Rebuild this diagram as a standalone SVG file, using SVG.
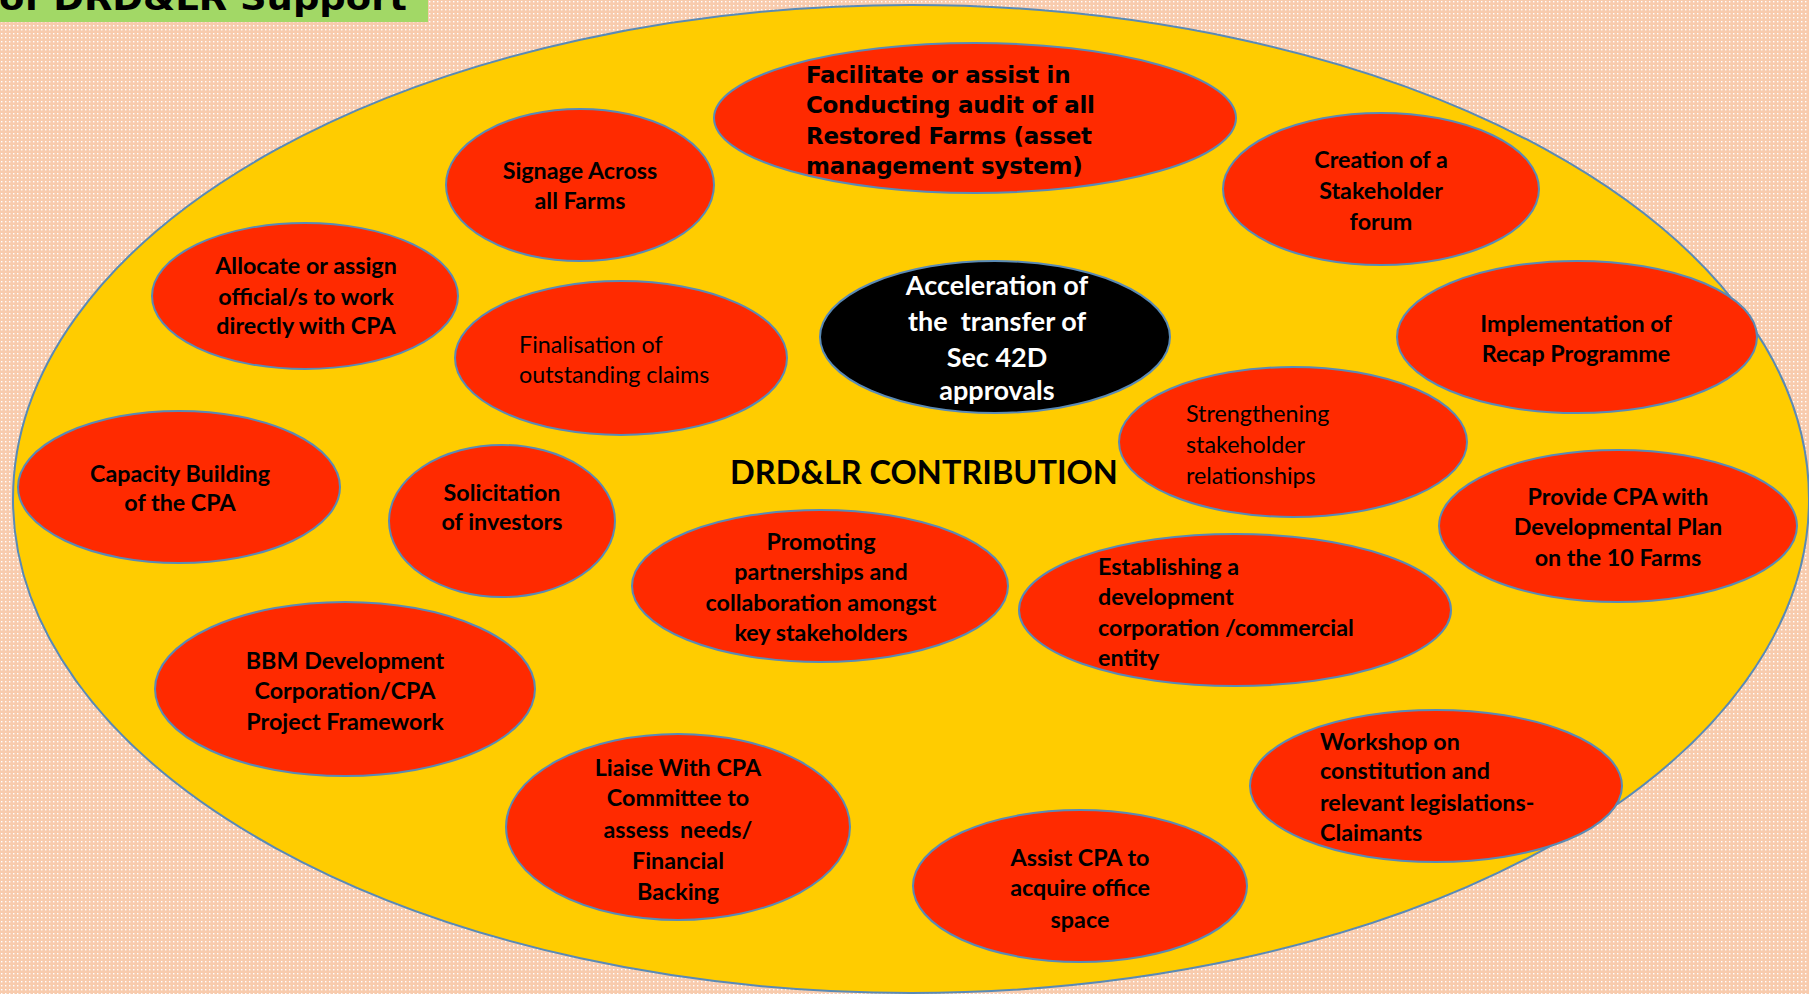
<svg xmlns="http://www.w3.org/2000/svg" width="1809" height="994" viewBox="0 0 1809 994">
<defs>
<pattern id="dots" x="0" y="0" width="4" height="4" patternUnits="userSpaceOnUse">
<rect width="4" height="4" fill="#F8CBAD"/>
<rect x="1" y="1" width="1.4" height="1.4" fill="#FFFFFF"/>
</pattern>
</defs>
<style>
.red{fill:#FF2A00;stroke:#5A8AB5;stroke-width:2}
.blk{fill:#000000;stroke:#5A8AB5;stroke-width:2}
.t{font-family:Lato,"Liberation Sans",sans-serif;font-size:23.3px;fill:#000;font-weight:bold}
.r{font-weight:normal}
.c{text-anchor:middle}
.w{fill:#FFFFFF;font-size:27px}
.v{font-family:"DejaVu Sans",Verdana,sans-serif;font-weight:bold;font-size:23px;letter-spacing:-0.3px;fill:#000}
</style>
<rect width="1809" height="994" fill="url(#dots)"/>
<g id="title">
<rect x="0" y="0" width="428" height="22" fill="#A2D866"/>
<text x="-1" y="10" textLength="408" lengthAdjust="spacingAndGlyphs" style="font-family:'DejaVu Sans',Verdana,sans-serif;font-weight:bold;font-size:34px" fill="#000">of DRD&amp;LR Support</text>
</g>
<g id="contribution">
<ellipse cx="911" cy="499" rx="898" ry="494" fill="#FFCC00" stroke="#5A8AB5" stroke-width="2"/>
<text class="t" x="924" y="484" style="font-size:32.5px" text-anchor="middle">DRD&amp;LR CONTRIBUTION</text>
</g>
<g id="audit">
<ellipse class="red" cx="975" cy="118" rx="261" ry="75"/>
<text class="v" x="806" y="83">Facilitate or assist in</text>
<text class="v" x="806" y="113">Conducting audit of all</text>
<text class="v" x="806" y="144">Restored Farms (asset</text>
<text class="v" x="806" y="174">management system)</text>
</g>
<g id="signage">
<ellipse class="red" cx="580" cy="185" rx="134" ry="76"/>
<text class="t c" x="580" y="179">Signage Across</text>
<text class="t c" x="580" y="209">all Farms</text>
</g>
<g id="forum">
<ellipse class="red" cx="1381" cy="189" rx="158" ry="76"/>
<text class="t c" x="1381" y="168">Creation of a</text>
<text class="t c" x="1381" y="199">Stakeholder</text>
<text class="t c" x="1381" y="230">forum</text>
</g>
<g id="allocate">
<ellipse class="red" cx="305" cy="296" rx="153" ry="73"/>
<text class="t c" x="306" y="274">Allocate or assign</text>
<text class="t c" x="306" y="305">official/s to work</text>
<text class="t c" x="306" y="334">directly with CPA</text>
</g>
<g id="finalisation">
<ellipse class="red" cx="621" cy="358" rx="166" ry="77"/>
<text class="t r" x="519" y="353">Finalisation of</text>
<text class="t r" x="519" y="383">outstanding claims</text>
</g>
<g id="acceleration">
<ellipse class="blk" cx="995" cy="337" rx="175" ry="76"/>
<text class="t c w" x="997" y="295">Acceleration of</text>
<text class="t c w" x="997" y="331">the&#160; transfer of</text>
<text class="t c w" x="997" y="367">Sec 42D</text>
<text class="t c w" x="997" y="400">approvals</text>
</g>
<g id="recap">
<ellipse class="red" cx="1577" cy="337" rx="180" ry="76"/>
<text class="t c" x="1576" y="332">Implementation of</text>
<text class="t c" x="1576" y="362">Recap Programme</text>
</g>
<g id="strengthening">
<ellipse class="red" cx="1293" cy="442" rx="174" ry="75"/>
<text class="t r" x="1186" y="422">Strengthening</text>
<text class="t r" x="1186" y="453">stakeholder</text>
<text class="t r" x="1186" y="484">relationships</text>
</g>
<g id="capacity">
<ellipse class="red" cx="179" cy="487" rx="161" ry="76"/>
<text class="t c" x="180" y="482">Capacity Building</text>
<text class="t c" x="180" y="511">of the CPA</text>
</g>
<g id="solicitation">
<ellipse class="red" cx="502" cy="521" rx="113" ry="76"/>
<text class="t c" x="502" y="501">Solicitation</text>
<text class="t c" x="502" y="530">of investors</text>
</g>
<g id="plan">
<ellipse class="red" cx="1618" cy="526" rx="179" ry="76"/>
<text class="t c" x="1618" y="505">Provide CPA with</text>
<text class="t c" x="1618" y="535">Developmental Plan</text>
<text class="t c" x="1618" y="566">on the 10 Farms</text>
</g>
<g id="partnerships">
<ellipse class="red" cx="820" cy="586" rx="188" ry="76"/>
<text class="t c" x="821" y="550">Promoting</text>
<text class="t c" x="821" y="580">partnerships and</text>
<text class="t c" x="821" y="611">collaboration amongst</text>
<text class="t c" x="821" y="641">key stakeholders</text>
</g>
<g id="corporation">
<ellipse class="red" cx="1235" cy="610" rx="216" ry="76"/>
<text class="t" x="1098" y="575">Establishing a</text>
<text class="t" x="1098" y="605">development</text>
<text class="t" x="1098" y="636">corporation /commercial</text>
<text class="t" x="1098" y="666">entity</text>
</g>
<g id="bbm">
<ellipse class="red" cx="345" cy="689" rx="190" ry="87"/>
<text class="t c" x="345" y="669">BBM Development</text>
<text class="t c" x="345" y="699">Corporation/CPA</text>
<text class="t c" x="345" y="730">Project Framework</text>
</g>
<g id="workshop">
<ellipse class="red" cx="1436" cy="786" rx="186" ry="76"/>
<text class="t" x="1320" y="750">Workshop on</text>
<text class="t" x="1320" y="779">constitution and</text>
<text class="t" x="1320" y="811">relevant legislations-</text>
<text class="t" x="1320" y="841">Claimants</text>
</g>
<g id="liaise">
<ellipse class="red" cx="678" cy="827" rx="172" ry="93"/>
<text class="t c" x="678" y="776">Liaise With CPA</text>
<text class="t c" x="678" y="806">Committee to</text>
<text class="t c" x="678" y="838">assess&#160; needs/</text>
<text class="t c" x="678" y="869">Financial</text>
<text class="t c" x="678" y="900">Backing</text>
</g>
<g id="office">
<ellipse class="red" cx="1080" cy="886" rx="167" ry="76"/>
<text class="t c" x="1080" y="866">Assist CPA to</text>
<text class="t c" x="1080" y="896">acquire office</text>
<text class="t c" x="1080" y="928">space</text>
</g>
<g id="connectors"></g>
</svg>
